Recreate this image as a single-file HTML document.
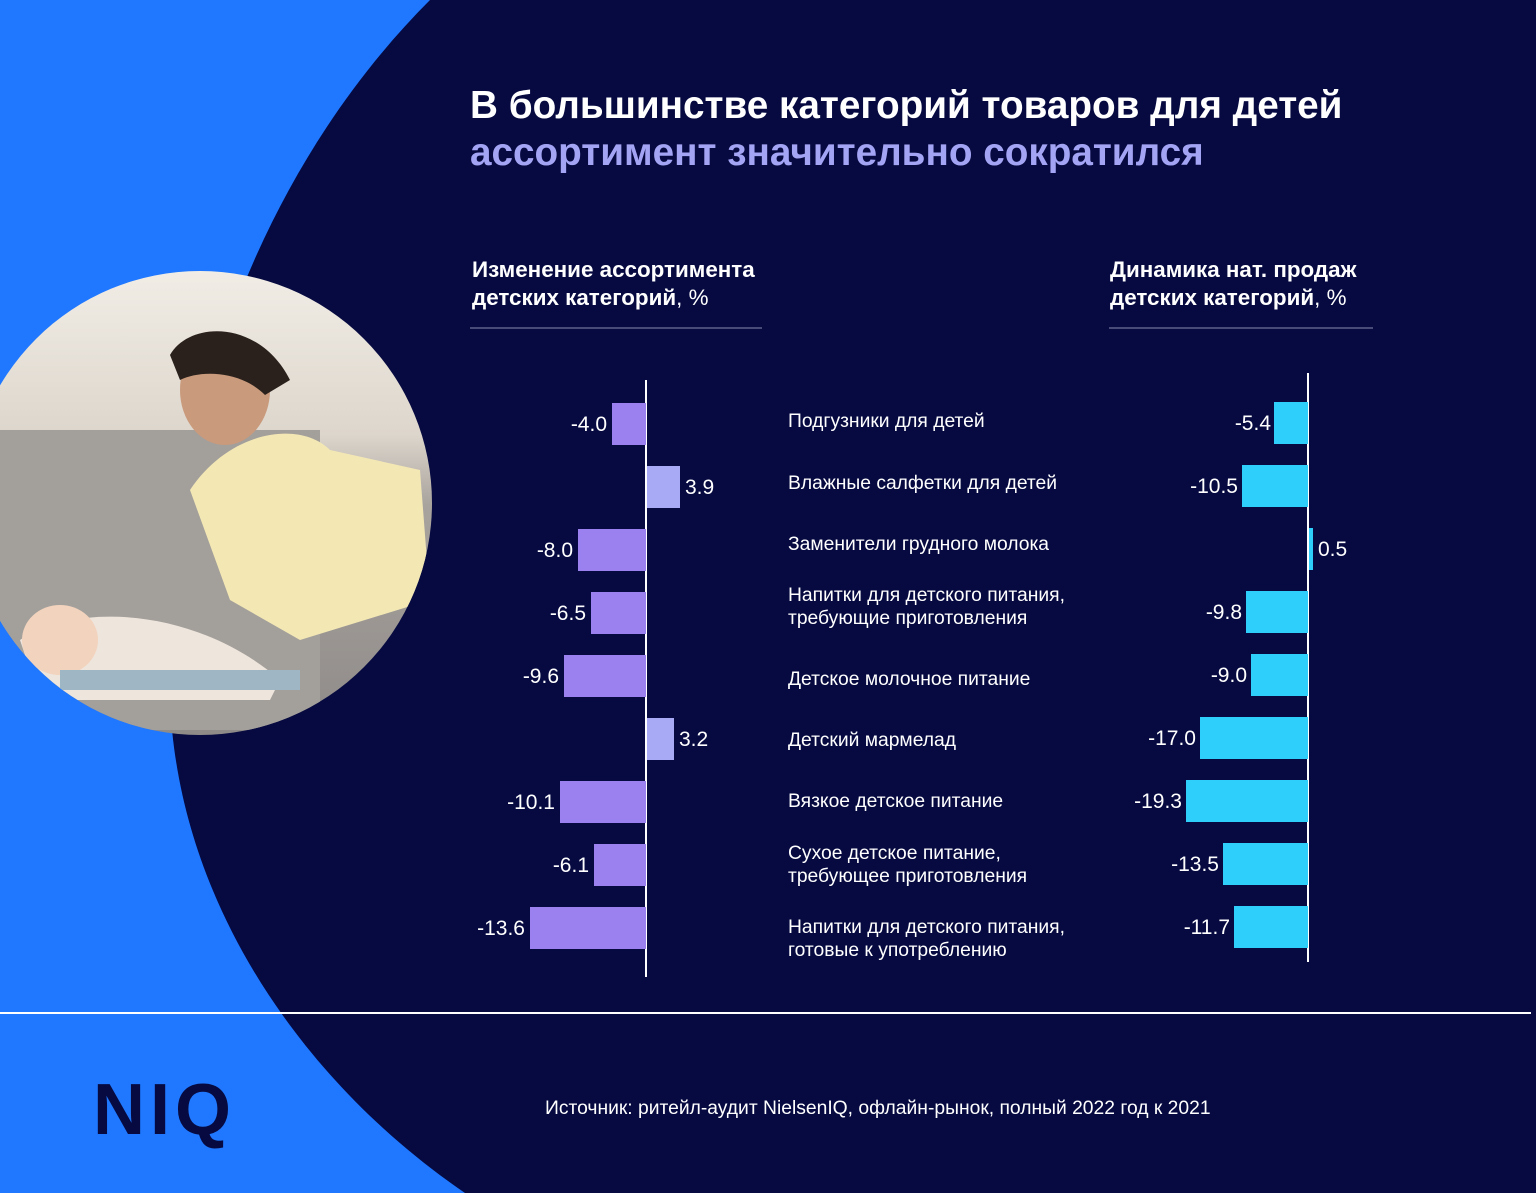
<!DOCTYPE html>
<html><head><meta charset="utf-8"><style>
body{margin:0}
#p{position:relative;width:1536px;height:1193px;background:#060a40;overflow:hidden;font-family:"Liberation Sans",sans-serif;color:#fff}
.a{position:absolute;white-space:nowrap}
.v{position:absolute;font-size:21px;line-height:24px}
.c{position:absolute;left:788px;font-size:19.3px;line-height:23px}
</style></head><body><div id="p">
<svg class="a" style="left:0;top:0" width="1536" height="1193">
<defs><clipPath id="cc"><circle cx="200" cy="503" r="232"/></clipPath>
<linearGradient id="g" x1="0" y1="0" x2="0" y2="1"><stop offset="0" stop-color="#f1ede6"/><stop offset="0.35" stop-color="#ddd6cc"/><stop offset="0.5" stop-color="#a9a39e"/><stop offset="1" stop-color="#8e8a88"/></linearGradient></defs>
<path d="M0,0 L430,0 C250,180 160,450 170,700 C178,900 300,1080 465,1193 L0,1193 Z" fill="#1f78ff"/>
<g clip-path="url(#cc)">
<rect x="-40" y="270" width="480" height="470" fill="url(#g)"/>
<rect x="0" y="430" width="320" height="300" fill="#a39f9b"/>
<path d="M190,490 C230,430 300,420 330,450 L420,470 L430,600 L300,640 L230,600 Z" fill="#f3e8b4"/>
<ellipse cx="225" cy="390" rx="45" ry="55" fill="#c99a7c"/>
<path d="M170,355 C190,320 260,320 290,380 L265,395 C240,370 200,370 180,380 Z" fill="#2a211c"/>
<path d="M20,640 C80,600 200,610 280,680 L270,700 L40,700 Z" fill="#eee5dc"/>
<ellipse cx="60" cy="640" rx="38" ry="35" fill="#f2d3bd"/>
<rect x="60" y="670" width="240" height="20" fill="#9fb6c4"/>
</g>
<line x1="470" y1="328" x2="762" y2="328" stroke="#8a8cae" stroke-width="1"/>
<line x1="1109" y1="328" x2="1373" y2="328" stroke="#8a8cae" stroke-width="1"/>
<line x1="0" y1="1013" x2="1531" y2="1013" stroke="#fff" stroke-width="2"/>
<line x1="646" y1="380" x2="646" y2="977" stroke="#fff" stroke-width="2"/>
<line x1="1308" y1="373" x2="1308" y2="962" stroke="#fff" stroke-width="2"/>
<g fill="#9b80f0">
<rect x="612" y="403" width="34" height="42"/>
<rect x="578" y="529" width="68" height="42"/>
<rect x="591" y="592" width="55" height="42"/>
<rect x="564" y="655" width="82" height="42"/>
<rect x="560" y="781" width="86" height="42"/>
<rect x="594" y="844" width="52" height="42"/>
<rect x="530" y="907" width="116" height="42"/>
</g>
<g fill="#a8aaf5">
<rect x="647" y="466" width="33" height="42"/>
<rect x="647" y="718" width="27" height="42"/>
</g>
<g fill="#2ecffa">
<rect x="1274" y="402" width="34" height="42"/>
<rect x="1242" y="465" width="66" height="42"/>
<rect x="1309" y="528" width="4" height="42"/>
<rect x="1246" y="591" width="62" height="42"/>
<rect x="1251" y="654" width="57" height="42"/>
<rect x="1200" y="717" width="108" height="42"/>
<rect x="1186" y="780" width="122" height="42"/>
<rect x="1223" y="843" width="85" height="42"/>
<rect x="1234" y="906" width="74" height="42"/>
</g>
</svg>
<div class="a" style="left:470px;top:82px;font-size:38.7px;font-weight:bold;line-height:47px">В большинстве категорий товаров для детей<br><span style="color:#a4a4f5">ассортимент значительно сократился</span></div>
<div class="a" style="left:472px;top:256px;font-size:22.4px;font-weight:bold;line-height:28px">Изменение ассортимента<br>детских категорий<span style="font-weight:normal">, %</span></div>
<div class="a" style="left:1110px;top:256px;font-size:22.4px;font-weight:bold;line-height:28px">Динамика нат. продаж<br>детских категорий<span style="font-weight:normal">, %</span></div>
<div class="v" style="right:929px;top:413px">-4.0</div>
<div class="v" style="left:685px;top:476px">3.9</div>
<div class="v" style="right:963px;top:539px">-8.0</div>
<div class="v" style="right:950px;top:602px">-6.5</div>
<div class="v" style="right:977px;top:665px">-9.6</div>
<div class="v" style="left:679px;top:728px">3.2</div>
<div class="v" style="right:981px;top:791px">-10.1</div>
<div class="v" style="right:947px;top:854px">-6.1</div>
<div class="v" style="right:1011px;top:917px">-13.6</div>
<div class="v" style="right:265px;top:412px">-5.4</div>
<div class="v" style="right:298px;top:475px">-10.5</div>
<div class="v" style="left:1318px;top:538px">0.5</div>
<div class="v" style="right:294px;top:601px">-9.8</div>
<div class="v" style="right:289px;top:664px">-9.0</div>
<div class="v" style="right:340px;top:727px">-17.0</div>
<div class="v" style="right:354px;top:790px">-19.3</div>
<div class="v" style="right:317px;top:853px">-13.5</div>
<div class="v" style="right:306px;top:916px">-11.7</div>
<div class="c" style="top:410px">Подгузники для детей</div>
<div class="c" style="top:472px">Влажные салфетки для детей</div>
<div class="c" style="top:533px">Заменители грудного молока</div>
<div class="c" style="top:584px">Напитки для детского питания,<br>требующие приготовления</div>
<div class="c" style="top:668px">Детское молочное питание</div>
<div class="c" style="top:729px">Детский мармелад</div>
<div class="c" style="top:790px">Вязкое детское питание</div>
<div class="c" style="top:842px">Сухое детское питание,<br>требующее приготовления</div>
<div class="c" style="top:916px">Напитки для детского питания,<br>готовые к употреблению</div>
<div class="a" style="left:93px;top:1070px;font-size:72px;font-weight:bold;color:#060a40;letter-spacing:5px;line-height:80px">NIQ</div>
<div class="a" style="left:545px;top:1098px;font-size:19.3px">Источник: ритейл-аудит NielsenIQ, офлайн-рынок, полный 2022 год к 2021</div>
</div></body></html>
